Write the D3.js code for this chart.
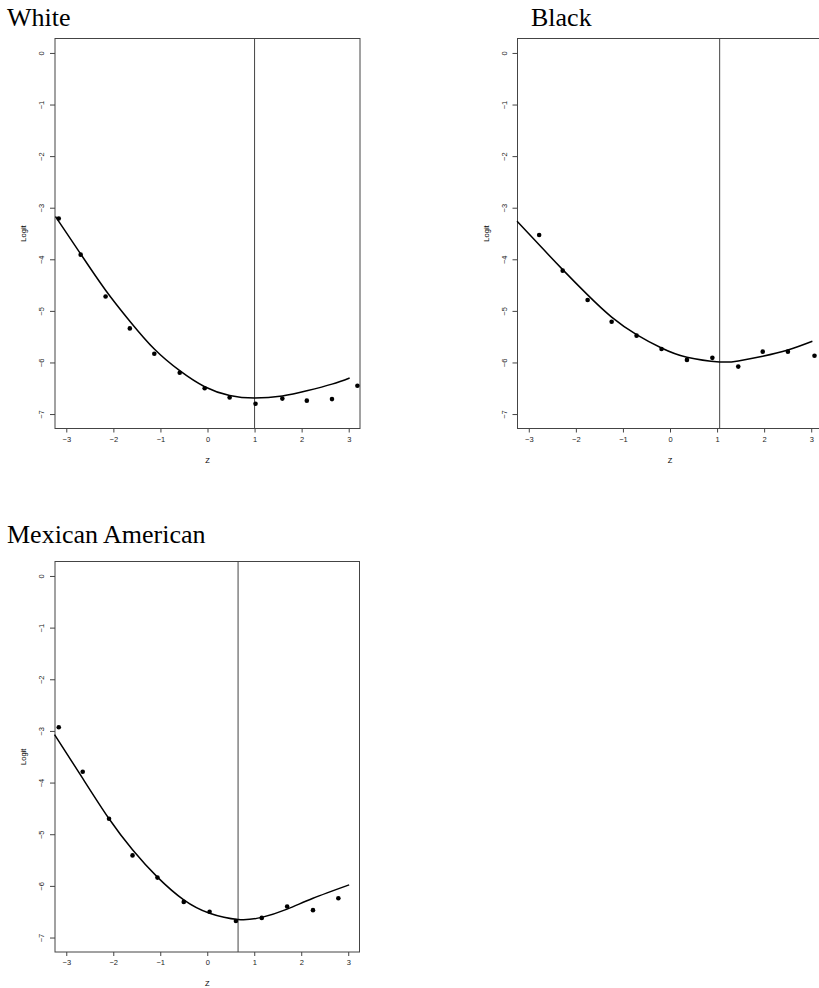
<!DOCTYPE html>
<html>
<head>
<meta charset="utf-8">
<script src="https://cdn.jsdelivr.net/npm/d3@7"></script>
<style>
  body { margin: 0; background: #fff; }
  svg { display: block; }
  .tick text { font-family: "Liberation Sans", Arial, sans-serif; font-size: 7.5px; fill: #222; }
  .axis path, .axis line { stroke: #444; }
</style>
</head>
<body>
<div id="chart"></div>
<script>
const width = 819;
const height = 988;

const xTicks = [-3, -2, -1, 0, 1, 2, 3];
const yTicks = [0, -1, -2, -3, -4, -5, -6, -7];

// White
const whiteZ = [-3.16, -2.695, -2.165, -1.65, -1.13, -0.59, -0.06, 0.47, 1.02, 1.59, 2.11, 2.645, 3.185];
const whiteLogit = [-3.21, -3.91, -4.72, -5.34, -5.83, -6.2, -6.5, -6.68, -6.8, -6.7, -6.74, -6.71, -6.45];
const whiteCurveZ = [-3.23, -2.7, -2.165, -1.65, -1.13, -0.59, -0.06, 0.47, 1.0, 1.59, 2.11, 2.645, 3.02];
const whiteCurveLogit = [-3.17, -3.89, -4.6, -5.2, -5.74, -6.16, -6.47, -6.64, -6.69, -6.65, -6.55, -6.42, -6.3];
const whiteCut = 1.0;

// Black
const blackZ = [-2.78, -2.28, -1.75, -1.24, -0.71, -0.18, 0.36, 0.9, 1.45, 1.97, 2.505, 3.07];
const blackLogit = [-3.53, -4.22, -4.79, -5.21, -5.48, -5.74, -5.95, -5.91, -6.08, -5.79, -5.79, -5.87];
const blackCurveZ = [-3.25, -2.78, -2.28, -1.75, -1.24, -0.71, -0.18, 0.36, 1.055, 1.45, 1.97, 2.505, 3.025];
const blackCurveLogit = [-3.26, -3.72, -4.2, -4.69, -5.12, -5.46, -5.72, -5.9, -5.99, -5.97, -5.88, -5.76, -5.59];
const blackCut = 1.055;

// Mexican American
const mexZ = [-3.16, -2.65, -2.09, -1.59, -1.06, -0.5, 0.05, 0.61, 1.16, 1.7, 2.25, 2.79];
const mexLogit = [-2.93, -3.79, -4.7, -5.41, -5.84, -6.31, -6.5, -6.68, -6.62, -6.4, -6.47, -6.24];
const mexCurveZ = [-3.25, -2.65, -2.09, -1.59, -1.06, -0.5, 0.05, 0.656, 1.16, 1.7, 2.25, 3.02];
const mexCurveLogit = [-3.07, -3.92, -4.7, -5.3, -5.83, -6.27, -6.53, -6.65, -6.61, -6.45, -6.24, -5.98];
const mexCut = 0.656;

const panels = [
  { title: "White", z: whiteZ, logit: whiteLogit, cz: whiteCurveZ, cl: whiteCurveLogit, cut: whiteCut,
    left: 55, top: 38.5, w: 305, h: 390, titleX: 7, titleY: 26 },
  { title: "Black", z: blackZ, logit: blackLogit, cz: blackCurveZ, cl: blackCurveLogit, cut: blackCut,
    left: 517.5, top: 38.5, w: 305, h: 390, titleX: 531, titleY: 26 },
  { title: "Mexican American", z: mexZ, logit: mexLogit, cz: mexCurveZ, cl: mexCurveLogit, cut: mexCut,
    left: 55, top: 561.5, w: 304.5, h: 390.5, titleX: 7, titleY: 543 },
];

const svg = d3
  .select("#chart")
  .append("svg")
  .attr("width", width)
  .attr("height", height);

const drawPanel = (p) => {
  const x = d3.scaleLinear().domain([-3.24, 3.24]).range([p.left, p.left + p.w]);
  const y = d3.scaleLinear().domain([-7.28, 0.28]).range([p.top + p.h, p.top]);
  const g = svg.append("g");

  g.append("text")
    .attr("x", p.titleX)
    .attr("y", p.titleY)
    .attr("font-family", "Liberation Serif, Times New Roman, serif")
    .attr("font-size", 26)
    .text(p.title);

  // x axis
  const xAxis = g
    .append("g")
    .attr("class", "axis")
    .attr("transform", `translate(0,${p.top + p.h})`)
    .call(
      d3.axisBottom(x).tickValues(xTicks).tickFormat(d3.format("d"))
        .tickSize(4).tickPadding(4).tickSizeOuter(0)
    );
  xAxis.select(".domain").remove();

  // y axis
  const yAxis = g
    .append("g")
    .attr("class", "axis")
    .attr("transform", `translate(${p.left},0)`)
    .call(d3.axisLeft(y).tickValues(yTicks).tickFormat(d3.format("d")).tickSize(5).tickSizeOuter(0));
  yAxis.select(".domain").remove();
  yAxis
    .selectAll(".tick text")
    .attr("text-anchor", "middle")
    .attr("x", 0)
    .attr("dy", 0)
    .attr("transform", "translate(-11,0) rotate(-90)")
    .attr("y", 0);

  // box
  g.append("rect")
    .attr("x", p.left)
    .attr("y", p.top)
    .attr("width", p.w)
    .attr("height", p.h)
    .attr("fill", "none")
    .attr("stroke", "#444")
    .attr("stroke-width", 1);

  // axis titles
  g.append("text")
    .attr("x", x(0))
    .attr("y", p.top + p.h + 34)
    .attr("text-anchor", "middle")
    .attr("font-family", "Liberation Sans, Arial, sans-serif")
    .attr("font-size", 7.5)
    .text("Z");
  g.append("text")
    .attr("transform", `translate(${p.left - 29},${p.top + p.h / 2}) rotate(-90)`)
    .attr("text-anchor", "middle")
    .attr("font-family", "Liberation Sans, Arial, sans-serif")
    .attr("font-size", 7.5)
    .text("Logit");

  // cut-point line
  g.append("line")
    .attr("x1", x(p.cut))
    .attr("x2", x(p.cut))
    .attr("y1", p.top)
    .attr("y2", p.top + p.h)
    .attr("stroke", "#444")
    .attr("stroke-width", 1);

  // fitted curve
  const line = d3
    .line()
    .x((d) => x(d[0]))
    .y((d) => y(d[1]))
    .curve(d3.curveNatural);
  g.append("path")
    .datum(p.cz.map((v, i) => [v, p.cl[i]]))
    .attr("d", line)
    .attr("fill", "none")
    .attr("stroke", "#000")
    .attr("stroke-width", 1.5);

  // points
  g.append("g")
    .selectAll("circle")
    .data(p.z.map((v, i) => [v, p.logit[i]]))
    .enter()
    .append("circle")
    .attr("cx", (d) => x(d[0]))
    .attr("cy", (d) => y(d[1]))
    .attr("r", 2.3)
    .attr("fill", "#000");
};

panels.forEach(drawPanel);
</script>
</body>
</html>
